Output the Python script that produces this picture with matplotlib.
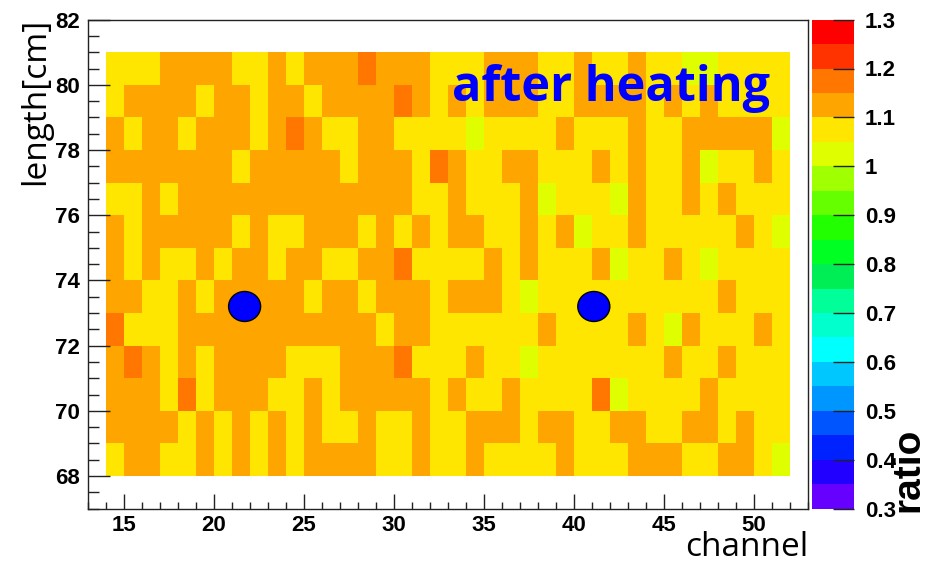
import numpy as np
import matplotlib
matplotlib.use("Agg")
import matplotlib.pyplot as plt
from matplotlib.colors import ListedColormap, BoundaryNorm
from matplotlib.patches import Ellipse
from matplotlib.ticker import MultipleLocator, FuncFormatter

# Bin edges: 38 channels (14..52) x 13 length slices (68..81 cm)
channel_edges = np.arange(14, 53)
length_edges = np.arange(68, 82)

# Ratio after/before heating; first row is the 68-69 cm slice
ratio = np.array([
    [1.08, 1.12, 1.12, 1.08, 1.08, 1.12, 1.08, 1.12, 1.08, 1.12, 1.08, 1.12, 1.12, 1.12, 1.12, 1.08, 1.08, 1.12, 1.08, 1.08,
     1.12, 1.08, 1.08, 1.08, 1.08, 1.12, 1.08, 1.08, 1.08, 1.12, 1.12, 1.12, 1.08, 1.08, 1.12, 1.12, 1.08, 1.03],  # 68
    [1.12, 1.12, 1.12, 1.12, 1.08, 1.12, 1.08, 1.12, 1.08, 1.12, 1.08, 1.12, 1.08, 1.08, 1.12, 1.08, 1.08, 1.12, 1.08, 1.08,
     1.12, 1.12, 1.12, 1.08, 1.12, 1.12, 1.08, 1.08, 1.12, 1.12, 1.08, 1.08, 1.12, 1.12, 1.08, 1.12, 1.08, 1.08],  # 69
    [1.12, 1.12, 1.12, 1.08, 1.17, 1.08, 1.12, 1.12, 1.12, 1.08, 1.08, 1.12, 1.08, 1.12, 1.12, 1.12, 1.12, 1.12, 1.08, 1.12,
     1.08, 1.08, 1.12, 1.08, 1.08, 1.08, 1.08, 1.17, 1.03, 1.08, 1.08, 1.08, 1.08, 1.12, 1.08, 1.08, 1.08, 1.08],  # 70
    [1.12, 1.17, 1.12, 1.08, 1.12, 1.08, 1.12, 1.12, 1.12, 1.12, 1.08, 1.08, 1.08, 1.12, 1.12, 1.12, 1.17, 1.08, 1.08, 1.08,
     1.12, 1.08, 1.08, 1.03, 1.08, 1.08, 1.08, 1.08, 1.08, 1.08, 1.08, 1.12, 1.08, 1.08, 1.12, 1.08, 1.08, 1.08],  # 71
    [1.17, 1.08, 1.08, 1.08, 1.12, 1.12, 1.12, 1.12, 1.12, 1.12, 1.12, 1.12, 1.12, 1.12, 1.12, 1.08, 1.12, 1.12, 1.08, 1.08,
     1.08, 1.08, 1.08, 1.08, 1.12, 1.08, 1.08, 1.08, 1.08, 1.12, 1.08, 1.03, 1.12, 1.08, 1.08, 1.08, 1.12, 1.08],  # 72
    [1.12, 1.12, 1.08, 1.08, 1.12, 1.08, 1.12, 1.12, 1.12, 1.12, 1.12, 1.08, 1.12, 1.12, 1.08, 1.12, 1.12, 1.12, 1.08, 1.12,
     1.12, 1.12, 1.08, 1.03, 1.08, 1.08, 1.08, 1.08, 1.08, 1.08, 1.08, 1.08, 1.08, 1.08, 1.12, 1.08, 1.08, 1.08],  # 73
    [1.12, 1.08, 1.12, 1.08, 1.08, 1.12, 1.08, 1.12, 1.12, 1.08, 1.12, 1.12, 1.08, 1.08, 1.12, 1.12, 1.17, 1.08, 1.08, 1.08,
     1.08, 1.12, 1.08, 1.12, 1.08, 1.08, 1.08, 1.12, 1.03, 1.08, 1.08, 1.12, 1.08, 1.03, 1.08, 1.08, 1.08, 1.08],  # 74
    [1.12, 1.08, 1.12, 1.12, 1.12, 1.12, 1.12, 1.08, 1.12, 1.08, 1.08, 1.12, 1.12, 1.12, 1.08, 1.12, 1.08, 1.12, 1.08, 1.12,
     1.12, 1.08, 1.08, 1.12, 1.08, 1.12, 1.03, 1.08, 1.08, 1.12, 1.08, 1.08, 1.08, 1.08, 1.08, 1.12, 1.08, 1.03],  # 75
    [1.08, 1.08, 1.12, 1.08, 1.12, 1.12, 1.12, 1.12, 1.12, 1.12, 1.12, 1.12, 1.12, 1.12, 1.12, 1.12, 1.12, 1.08, 1.08, 1.12,
     1.08, 1.08, 1.08, 1.12, 1.03, 1.08, 1.08, 1.08, 1.03, 1.12, 1.08, 1.08, 1.12, 1.08, 1.12, 1.08, 1.08, 1.08],  # 76
    [1.12, 1.12, 1.12, 1.12, 1.12, 1.12, 1.12, 1.08, 1.12, 1.12, 1.12, 1.12, 1.12, 1.08, 1.12, 1.12, 1.12, 1.08, 1.17, 1.12,
     1.08, 1.08, 1.12, 1.12, 1.08, 1.08, 1.08, 1.12, 1.08, 1.12, 1.08, 1.08, 1.12, 1.03, 1.08, 1.08, 1.12, 1.08],  # 77
    [1.12, 1.08, 1.12, 1.12, 1.08, 1.12, 1.12, 1.12, 1.08, 1.12, 1.17, 1.12, 1.08, 1.08, 1.12, 1.12, 1.08, 1.08, 1.08, 1.08,
     1.03, 1.08, 1.08, 1.08, 1.08, 1.12, 1.08, 1.08, 1.08, 1.12, 1.08, 1.08, 1.12, 1.12, 1.12, 1.12, 1.12, 1.03],  # 78
    [1.08, 1.12, 1.12, 1.12, 1.12, 1.08, 1.12, 1.12, 1.08, 1.12, 1.12, 1.08, 1.12, 1.12, 1.12, 1.12, 1.17, 1.12, 1.08, 1.12,
     1.08, 1.12, 1.12, 1.12, 1.08, 1.08, 1.12, 1.12, 1.12, 1.12, 1.08, 1.12, 1.08, 1.12, 1.08, 1.08, 1.08, 1.08],  # 79
    [1.08, 1.08, 1.08, 1.12, 1.12, 1.12, 1.12, 1.08, 1.08, 1.12, 1.08, 1.12, 1.12, 1.12, 1.17, 1.12, 1.12, 1.12, 1.08, 1.08,
     1.08, 1.12, 1.12, 1.12, 1.08, 1.08, 1.12, 1.08, 1.08, 1.12, 1.08, 1.08, 1.03, 1.03, 1.08, 1.08, 1.08, 1.08],  # 80
])

# Heated spots (channel, length)
spot_channel = [21.7, 41.1]
spot_length = [73.2, 73.2]

colorbar_ticks = [0.3, 0.4, 0.5, 0.6, 0.7, 0.8, 0.9, 1.0, 1.1, 1.2, 1.3]

# Rainbow palette, 20 bands from 0.3 to 1.3
palette = ['#6600ff', '#2200ff', '#0022ff', '#0055ff', '#0096ff',
           '#00c8ff', '#00ffff', '#00ffcc', '#00ff99', '#00ee55',
           '#00ff22', '#22ff00', '#66ff00', '#a0ff00', '#dfff00',
           '#ffe600', '#ffa500', '#ff7700', '#ff3300', '#ff0000']
levels = np.linspace(0.3, 1.3, len(palette) + 1)
cmap = ListedColormap(palette)
norm = BoundaryNorm(levels, cmap.N)

W, H = 925, 563
fig = plt.figure(figsize=(W / 100, H / 100), dpi=100)
fig.patch.set_facecolor('white')

ax_left, ax_right, ax_top, ax_bottom = 88, 808, 19.6, 508.6
ax = fig.add_axes([ax_left / W, 1 - ax_bottom / H, (ax_right - ax_left) / W, (ax_bottom - ax_top) / H])
mesh = ax.pcolormesh(channel_edges, length_edges, ratio, cmap=cmap, norm=norm,
                     edgecolors='none', antialiased=False)
ax.set_xlim(13, 53)
ax.set_ylim(67, 82)

ax.xaxis.set_major_locator(MultipleLocator(5))
ax.xaxis.set_minor_locator(MultipleLocator(1))
ax.yaxis.set_major_locator(MultipleLocator(2))
ax.yaxis.set_minor_locator(MultipleLocator(0.5))
ax.tick_params(which='both', direction='in', top=False, right=False, color='#222222', width=1)
ax.tick_params(axis='x', which='major', length=10.5, pad=4.5)
ax.tick_params(axis='x', which='minor', length=5.3)
ax.tick_params(axis='y', which='major', length=15.5, pad=5.5)
ax.tick_params(axis='y', which='minor', length=8)
tick_font = dict(family='Liberation Sans', weight='bold', size=16)
for lab in ax.get_xticklabels() + ax.get_yticklabels():
    lab.set_fontproperties(matplotlib.font_manager.FontProperties(**tick_font))
for sp in ax.spines.values():
    sp.set_color('#222222')
    sp.set_linewidth(1.0)

for cx, cy in zip(spot_channel, spot_length):
    ax.add_patch(Ellipse((cx, cy), width=1.78, height=0.92, facecolor='#0000ff',
                         edgecolor='black', linewidth=1.0, zorder=5))

# Colour scale
cax = fig.add_axes([812 / W, 1 - ax_bottom / H, 42 / W, (ax_bottom - ax_top) / H])
cb = fig.colorbar(mesh, cax=cax, ticks=colorbar_ticks)
cb.outline.set_visible(False)
cb.ax.minorticks_off()
cax.tick_params(direction='in', length=15, width=1, color='#222222', pad=8)
cax.yaxis.set_major_formatter(FuncFormatter(lambda v, p: f"{v:g}"))
for lab in cax.get_yticklabels():
    lab.set_fontproperties(matplotlib.font_manager.FontProperties(**tick_font))

fig.text(908 / W, 1 - 512 / H, 'ratio', rotation=90, ha='center', va='bottom',
         family='Liberation Sans', weight='bold', fontsize=28)
fig.text(36 / W, 1 - 18 / H, 'length[cm]', rotation=90, ha='center', va='top',
         family='Open Sans', fontsize=24)
fig.text(808 / W, 1 - 556 / H, 'channel', ha='right', va='baseline',
         family='Open Sans', fontsize=24)
fig.text(452 / W, 1 - 101 / H, 'after heating', ha='left', va='baseline',
         family='Open Sans', weight='bold', fontsize=35, color='#0000ff')

fig.savefig('out.png', dpi=100, facecolor='white')
